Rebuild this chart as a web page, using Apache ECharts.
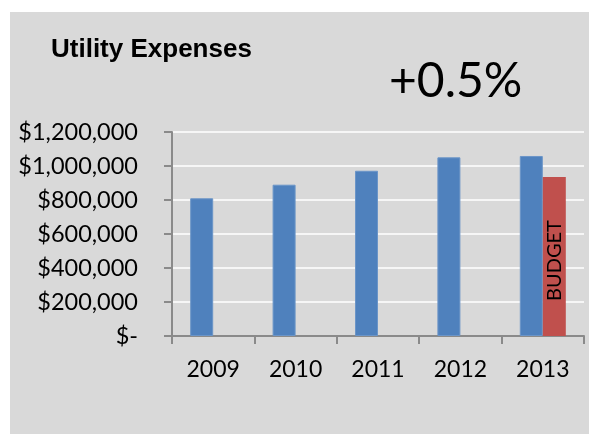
<!DOCTYPE html>
<html>
<head>
<meta charset="utf-8">
<script src="https://cdn.jsdelivr.net/npm/echarts@6/dist/echarts.min.js"></script>
<style>
html,body{margin:0;padding:0;background:#ffffff;}
#chart{width:589px;height:434px;}
</style>
</head>
<body>
<div id="chart"></div>
<script>
const categories = ['2009', '2010', '2011', '2012', '2013'];
const actualValues = [810000, 890000, 972000, 1051000, 1059000];
const budgetValues = [null, null, null, null, 935000];
const yTicks = [0, 200000, 400000, 600000, 800000, 1000000, 1200000];
const titleText = 'Utility Expenses';
const changeText = '+0.5%';
const budgetLabel = 'BUDGET';

function fmtMoney(v) {
  if (v === 0) return '$-';
  return '$' + v.toLocaleString('en-US');
}

const chart = echarts.init(document.getElementById('chart'), null, {renderer: 'canvas'});
const labelFont = 'Lato';
chart.setOption({
  backgroundColor: '#ffffff',
  animation: false,
  graphic: {
    elements: [{
      type: 'rect', z: -100, silent: true,
      shape: {x: 10, y: 12, width: 579, height: 422},
      style: {fill: '#d9d9d9'}
    }]
  },
  title: [
    {
      text: titleText, left: 46, top: 30,
      textStyle: {fontFamily: 'Liberation Sans', fontSize: 26, fontWeight: 'bold', color: '#000', lineHeight: 30}
    },
    {
      text: changeText, left: 384, top: 51,
      textStyle: {fontFamily: labelFont, fontSize: 48, fontWeight: 'normal', color: '#000', lineHeight: 52}
    }
  ],
  grid: {left: 172, right: 5, top: 132, bottom: 98, containLabel: false},
  xAxis: {
    type: 'category',
    data: categories,
    boundaryGap: true,
    axisLine: {show: true, lineStyle: {color: '#8a8a8a', width: 2}},
    axisTick: {show: true, length: 8, alignWithLabel: false, lineStyle: {color: '#8a8a8a', width: 2}},
    axisLabel: {margin: 22, fontFamily: labelFont, fontSize: 23, color: '#000'}
  },
  yAxis: {
    type: 'value',
    min: 0, max: yTicks[yTicks.length - 1], interval: yTicks[1] - yTicks[0],
    axisLine: {show: true, lineStyle: {color: '#8a8a8a', width: 2}},
    axisTick: {show: true, length: 8, lineStyle: {color: '#8a8a8a', width: 2}},
    splitLine: {show: true, lineStyle: {color: '#ffffff', width: 1.5}},
    axisLabel: {margin: 34, fontFamily: labelFont, fontSize: 23.5, color: '#000', formatter: fmtMoney}
  },
  series: [
    {
      name: 'Actual', type: 'bar', data: actualValues,
      barWidth: 23, barGap: '0%',
      itemStyle: {color: '#4f81bd', borderColor: '#6b95c8', borderWidth: 1}
    },
    {
      name: 'Budget', type: 'bar', data: budgetValues,
      barWidth: 23, barGap: '0%',
      itemStyle: {color: '#c0504d'},
      label: {
        show: true, position: 'inside', rotate: 90, offset: [-4, 0],
        formatter: budgetLabel, fontFamily: labelFont, fontSize: 20, color: '#000'
      }
    }
  ]
});
</script>
</body>
</html>
